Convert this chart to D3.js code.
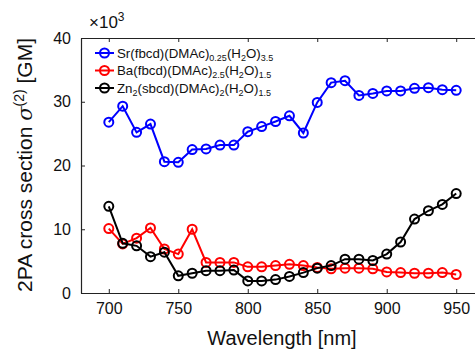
<!DOCTYPE html>
<html><head><meta charset="utf-8">
<script src="https://cdn.jsdelivr.net/npm/d3@7"></script>
<style>body{margin:0;background:#fff;} svg{display:block;font-family:"Liberation Sans",Arial,sans-serif;}</style>
</head><body>
<script>
const wavelengths = [700,710,720,730,740,750,760,770,780,790,800,810,820,830,840,850,860,870,880,890,900,910,920,930,940,950];
const srValues = [26.8,29.3,25.2,26.5,20.6,20.5,22.5,22.6,23.2,23.2,25.3,26.1,26.9,27.8,25.1,29.9,33.0,33.3,31.0,31.3,31.7,31.7,32.1,32.2,31.9,31.8];
const baValues = [10.1,7.7,8.6,10.2,6.9,6.1,10.0,4.8,4.8,4.8,4.1,4.1,4.3,4.5,4.3,4.0,3.8,3.9,3.9,3.8,3.3,3.2,3.1,3.1,3.2,2.9];
const znValues = [13.6,7.8,7.4,5.7,6.4,2.7,3.1,3.5,3.5,3.6,1.9,1.9,2.1,2.6,3.2,3.9,4.3,5.3,5.3,5.1,6.1,8.0,11.6,12.9,13.9,15.6];
const xTicks = [700,750,800,850,900,950];
const yTicks = [0,10,20,30,40];
const seriesNames = ["Sr","Ba","Zn"];
const seriesColors = ["#0000ff","#ff0000","#000000"];

const W = 475, H = 350;
const m = {left:81, top:38, right:484, bottom:293};
const svg = d3.select("body").append("svg").attr("width",W).attr("height",H);
const x = d3.scaleLinear().domain([680,970]).range([m.left,m.right]);
const y = d3.scaleLinear().domain([0,40]).range([m.bottom,m.top]);

// axes (ticks inward)
const axisColor = "#222";
const gx = svg.append("g").attr("transform",`translate(0,${m.bottom})`)
  .call(d3.axisBottom(x).tickValues(xTicks).tickSizeInner(-4).tickSizeOuter(0).tickPadding(10));
const gxt = svg.append("g").attr("transform",`translate(0,${m.top})`)
  .call(d3.axisTop(x).tickValues(xTicks).tickSizeInner(-4).tickSizeOuter(0).tickFormat(""));
const gy = svg.append("g").attr("transform",`translate(${m.left},0)`)
  .call(d3.axisLeft(y).tickValues(yTicks).tickSizeInner(-4).tickSizeOuter(0).tickPadding(10));
[gx,gxt,gy].forEach(g=>{
  g.selectAll("path").attr("stroke",axisColor).attr("stroke-width",1.2);
  g.selectAll("line").attr("stroke",axisColor).attr("stroke-width",1);
  g.selectAll("text").attr("font-size",16).attr("fill","#111").attr("font-family","'Liberation Sans',Arial,sans-serif");
});

// x10^3
const mult = svg.append("text").attr("x",89).attr("y",28).attr("font-size",17).attr("fill","#111");
mult.append("tspan").text("×10");
mult.append("tspan").attr("dy",-7).attr("font-size",12).text("3");

// axis labels
svg.append("text").attr("x",282).attr("y",345).attr("text-anchor","middle").attr("font-size",20).attr("fill","#111").text("Wavelength [nm]");
const yl = svg.append("text").attr("transform","translate(32,165) rotate(-90)").attr("text-anchor","middle").attr("font-size",21).attr("fill","#111");
yl.append("tspan").text("2PA cross section ");
yl.append("tspan").attr("font-style","italic").attr("font-family","'DejaVu Serif',serif").text("σ");
yl.append("tspan").attr("dy",-8).attr("font-size",14).text("(2)");
yl.append("tspan").attr("dy",8).text(" [GM]");

// series
const data = [srValues, baValues, znValues];
const line = d3.line().x((d,i)=>x(wavelengths[i])).y(d=>y(d));
data.forEach((vals,k)=>{
  const g = svg.append("g");
  g.append("path").datum(vals).attr("d",line).attr("fill","none").attr("stroke",seriesColors[k]).attr("stroke-width",2);
  g.selectAll("circle").data(vals).join("circle")
    .attr("cx",(d,i)=>x(wavelengths[i])).attr("cy",d=>y(d)).attr("r",4.5)
    .attr("fill","none").attr("stroke",seriesColors[k]).attr("stroke-width",2);
});

// legend
const legendParts = [
  [["Sr(fbcd)(DMAc)",0],["0.25",1],["(H",0],["2",1],["O)",0],["3.5",1]],
  [["Ba(fbcd)(DMAc)",0],["2.5",1],["(H",0],["2",1],["O)",0],["1.5",1]],
  [["Zn",0],["2",1],["(sbcd)(DMAc)",0],["2",1],["(H",0],["2",1],["O)",0],["1.5",1]]
];
legendParts.forEach((parts,k)=>{
  const ly = 53 + k*17.5;
  svg.append("line").attr("x1",95).attr("x2",114).attr("y1",ly).attr("y2",ly).attr("stroke",seriesColors[k]).attr("stroke-width",2);
  svg.append("circle").attr("cx",104.5).attr("cy",ly).attr("r",4.5).attr("fill","none").attr("stroke",seriesColors[k]).attr("stroke-width",2);
  const t = svg.append("text").attr("x",117).attr("y",ly+4.5).attr("font-size",13.3).attr("fill","#111");
  let sub = false;
  parts.forEach(([s,isSub])=>{
    const ts = t.append("tspan").text(s);
    if(isSub && !sub){ ts.attr("dy",3).attr("font-size",9); sub=true; }
    else if(isSub && sub){ ts.attr("font-size",9); }
    else if(!isSub && sub){ ts.attr("dy",-3); sub=false; }
  });
});
</script>
</body></html>
